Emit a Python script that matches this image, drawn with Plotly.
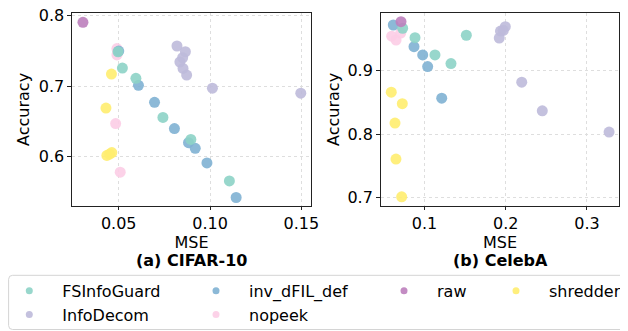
import plotly.graph_objects as go

# ---------------- data ----------------
colors = {
    "FSInfoGuard": "#8dd3c7",
    "InfoDecom": "#bebada",
    "inv_dFIL_def": "#80b1d3",
    "nopeek": "#fccde5",
    "raw": "#bc80bd",
    "shredder": "#ffed6f",
}

# CIFAR-10 (MSE, Accuracy)
cifar_FSInfoGuard_mse = [0.0496, 0.0520, 0.0594, 0.0742, 0.0895, 0.1106]
cifar_FSInfoGuard_acc = [0.7485, 0.7255, 0.7110, 0.6557, 0.6246, 0.5660]
cifar_InfoDecom_mse = [0.0819, 0.0865, 0.0850, 0.0835, 0.0852, 0.0872, 0.1013, 0.1497]
cifar_InfoDecom_acc = [0.7566, 0.7485, 0.7400, 0.7340, 0.7250, 0.7156, 0.6970, 0.6900]
cifar_inv_dFIL_def_mse = [0.0500, 0.0608, 0.0696, 0.0805, 0.0882, 0.0919, 0.0983, 0.1143]
cifar_inv_dFIL_def_acc = [0.7495, 0.7010, 0.6770, 0.6400, 0.6200, 0.6120, 0.5915, 0.5426]
cifar_nopeek_mse = [0.0490, 0.0490, 0.0483, 0.0508]
cifar_nopeek_acc = [0.7530, 0.7440, 0.6470, 0.5784]
cifar_raw_mse = [0.0304]
cifar_raw_acc = [0.7900]
cifar_shredder_mse = [0.0460, 0.0430, 0.0435, 0.0450, 0.0462]
cifar_shredder_acc = [0.7170, 0.6690, 0.6020, 0.6040, 0.6060]

# CelebA (MSE, Accuracy)
celeba_FSInfoGuard_mse = [0.0731, 0.0883, 0.1129, 0.1326, 0.1515]
celeba_FSInfoGuard_acc = [0.9665, 0.9517, 0.9246, 0.9110, 0.9555]
celeba_InfoDecom_mse = [0.1995, 0.1935, 0.1970, 0.1920, 0.2197, 0.2450, 0.3272]
celeba_InfoDecom_acc = [0.9690, 0.9620, 0.9630, 0.9510, 0.8818, 0.8368, 0.8034]
celeba_inv_dFIL_def_mse = [0.0616, 0.0871, 0.0978, 0.1039, 0.1212]
celeba_inv_dFIL_def_acc = [0.9716, 0.9376, 0.9246, 0.9063, 0.8567]
celeba_nopeek_mse = [0.0596, 0.0650, 0.0707]
celeba_nopeek_acc = [0.9540, 0.9480, 0.9590]
celeba_raw_mse = [0.0711]
celeba_raw_acc = [0.9768]
celeba_shredder_mse = [0.0591, 0.0727, 0.0637, 0.0649, 0.0719]
celeba_shredder_acc = [0.8660, 0.8480, 0.8176, 0.7610, 0.7016]

cifar = {
    "FSInfoGuard": (cifar_FSInfoGuard_mse, cifar_FSInfoGuard_acc),
    "InfoDecom": (cifar_InfoDecom_mse, cifar_InfoDecom_acc),
    "inv_dFIL_def": (cifar_inv_dFIL_def_mse, cifar_inv_dFIL_def_acc),
    "nopeek": (cifar_nopeek_mse, cifar_nopeek_acc),
    "raw": (cifar_raw_mse, cifar_raw_acc),
    "shredder": (cifar_shredder_mse, cifar_shredder_acc),
}
celeba = {
    "FSInfoGuard": (celeba_FSInfoGuard_mse, celeba_FSInfoGuard_acc),
    "InfoDecom": (celeba_InfoDecom_mse, celeba_InfoDecom_acc),
    "inv_dFIL_def": (celeba_inv_dFIL_def_mse, celeba_inv_dFIL_def_acc),
    "nopeek": (celeba_nopeek_mse, celeba_nopeek_acc),
    "raw": (celeba_raw_mse, celeba_raw_acc),
    "shredder": (celeba_shredder_mse, celeba_shredder_acc),
}

cifar_xticks = [0.05, 0.10, 0.15]
cifar_xticktext = ["0.05", "0.10", "0.15"]
cifar_yticks = [0.6, 0.7, 0.8]
cifar_yticktext = ["0.6", "0.7", "0.8"]
celeba_xticks = [0.1, 0.2, 0.3]
celeba_xticktext = ["0.1", "0.2", "0.3"]
celeba_yticks = [0.7, 0.8, 0.9]
celeba_yticktext = ["0.7", "0.8", "0.9"]

titles = ["(a) CIFAR-10", "(b) CelebA"]

# legend columns (column-major like the original)
legend_columns = [["FSInfoGuard", "InfoDecom"], ["inv_dFIL_def", "nopeek"], ["raw"], ["shredder"]]

# ---------------- figure ----------------
PAGE_OFF = 8  # default body margin of the page
W, H = 628 - PAGE_OFF, 331 - PAGE_OFF
FONT = "DejaVu Sans"
draw_order = ["nopeek", "InfoDecom", "shredder", "inv_dFIL_def", "FSInfoGuard", "raw"]

fig = go.Figure()
for data, xa, ya in [(cifar, "x", "y"), (celeba, "x2", "y2")]:
    for m in draw_order:
        xs, ys = data[m]
        fig.add_trace(go.Scatter(
            x=xs, y=ys, mode="markers", xaxis=xa, yaxis=ya, showlegend=False,
            marker=dict(size=11, color=colors[m], opacity=0.9, line=dict(width=0)),
            name=m, hoverinfo="skip",
        ))

legend_names = ["legend", "legend2", "legend3", "legend4"]
for lname, col in zip(legend_names, legend_columns):
    for m in col:
        fig.add_trace(go.Scatter(
            x=[None], y=[None], mode="markers", name=m, legend=lname,
            marker=dict(size=7, color=colors[m], opacity=0.9, line=dict(width=0)),
        ))

def px_x(p):  # page pixel -> paper fraction
    return (p - PAGE_OFF) / W

def px_y(p):
    return (H - (p - PAGE_OFF)) / H

axis_common = dict(
    showline=True, linecolor="#222", linewidth=1.2, mirror=True,
    ticks="outside", ticklen=3.5, tickwidth=1, tickcolor="#222",
    showgrid=True, gridcolor="#dedede", griddash="dot", gridwidth=1,
    zeroline=False, tickfont=dict(family=FONT, size=16, color="black"),
    title_font=dict(family=FONT, size=16, color="black"),
    ticklabeloverflow="allow",
)

ydom = [px_y(205.5), px_y(13.3)]
fig.update_layout(
    width=W, height=H,
    margin=dict(l=0, r=0, t=0, b=0, autoexpand=False),
    paper_bgcolor="white", plot_bgcolor="white",
    font=dict(family=FONT, size=16, color="black"),
    xaxis=dict(domain=[px_x(72), px_x(311)], range=[0.0244, 0.1553], anchor="y",
               tickvals=cifar_xticks, ticktext=cifar_xticktext,
               title=dict(text="MSE", standoff=1), **axis_common),
    yaxis=dict(domain=ydom, range=[0.5313, 0.8028], anchor="x",
               tickvals=cifar_yticks, ticktext=cifar_yticktext,
               title=dict(text="Accuracy", standoff=5), **axis_common),
    xaxis2=dict(domain=[px_x(380.7), px_x(619.4)], range=[0.0461, 0.3399], anchor="y2",
                tickvals=celeba_xticks, ticktext=celeba_xticktext,
                title=dict(text="MSE", standoff=1), **axis_common),
    yaxis2=dict(domain=ydom, range=[0.688, 0.990], anchor="x2",
                tickvals=celeba_yticks, ticktext=celeba_yticktext,
                title=dict(text="Accuracy", standoff=3), **axis_common),
)

leg_x = [-3.7, 183.0, 371.0, 483.0]
for lname, lx in zip(legend_names, leg_x):
    fig.update_layout(**{lname: dict(
        x=px_x(lx), xanchor="left", y=px_y(273.8), yanchor="top",
        orientation="v", bgcolor="rgba(0,0,0,0)", borderwidth=0,
        itemwidth=56, tracegroupgap=0,
        font=dict(family=FONT, size=16, color="black"),
    )})

# legend frame (rounded box)
x0, x1, y0, y1, r = px_x(8.6), px_x(624.5), px_y(329.5), px_y(275.3), 4
rx, ry = r / W, r / H
path = (f"M {x0+rx},{y1} L {x1-rx},{y1} Q {x1},{y1} {x1},{y1-ry} "
        f"L {x1},{y0+ry} Q {x1},{y0} {x1-rx},{y0} L {x0+rx},{y0} "
        f"Q {x0},{y0} {x0},{y0+ry} L {x0},{y1-ry} Q {x0},{y1} {x0+rx},{y1} Z")
fig.add_shape(type="path", path=path, xref="paper", yref="paper",
              line=dict(color="#d4d4d4", width=1), fillcolor="rgba(0,0,0,0)", layer="below")

for t, cx in zip(titles, [(72 + 311) / 2, (380.7 + 619.4) / 2]):
    fig.add_annotation(text=f"<b>{t}</b>", x=px_x(cx), y=px_y(261), xref="paper", yref="paper",
                       xanchor="center", yanchor="middle", showarrow=False,
                       font=dict(family=FONT, size=16, color="black"))

fig.write_html("out.html")
